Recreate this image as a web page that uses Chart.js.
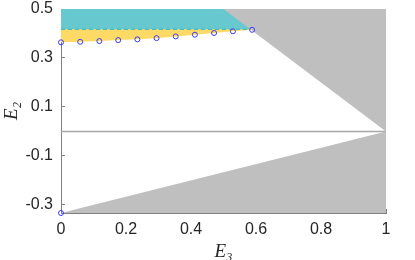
<!DOCTYPE html>
<html>
<head>
<meta charset="utf-8">
<script src="https://cdn.jsdelivr.net/npm/chart.js@4.4.0/dist/chart.umd.min.js"></script>
<style>
    html, body { margin: 0; padding: 0; background: #ffffff; }
</style>
</head>
<body>
<canvas id="chart_e" width="415" height="260"></canvas>
<script>
// sampled points (blue circles)
const markX = [0, 0.059, 0.118, 0.176, 0.235, 0.294, 0.353, 0.412, 0.471, 0.529, 0.588];
const markY = [0.364, 0.366, 0.369, 0.373, 0.376, 0.381, 0.388, 0.395, 0.402, 0.409, 0.415];
const cornerX = [0];
const cornerY = [-0.333];

// region boundaries
const upperEdgeX = [0.5, 1];
const upperEdgeY = [0.5, 0];
const lowerEdgeX = [0, 1];
const lowerEdgeY = [-0.333, 0];
const dashX = [0, 0.583];
const dashY = [0.417, 0.417];
const zeroX = [0, 1];
const zeroY = [0, 0];

const xTicks = [0, 0.2, 0.4, 0.6, 0.8, 1];
const yTicks = [0.5, 0.3, 0.1, -0.1, -0.3];

function pts(xs, ys) {
    return xs.map(function (x, i) { return { x: x, y: ys[i] }; });
}

var ctx = document.getElementById('chart_e');
var eChart = new Chart(ctx, {
    type: 'line',
    data: {
        datasets: [
            {
                label: 'points',
                data: pts(markX, markY).concat(pts(cornerX, cornerY)),
                showLine: false,
                pointRadius: 2.5,
                pointBorderWidth: 1,
                pointBorderColor: '#3a3aff',
                pointBackgroundColor: 'rgba(0,0,0,0)',
                clip: false,
                order: 0
            },
            {
                label: 'upper',
                data: pts(upperEdgeX, upperEdgeY),
                borderWidth: 0,
                pointRadius: 0,
                backgroundColor: '#bfbfbf',
                fill: 'end',
                order: 1
            },
            {
                label: 'lower',
                data: pts(lowerEdgeX, lowerEdgeY),
                borderWidth: 0,
                pointRadius: 0,
                backgroundColor: '#bfbfbf',
                fill: 'start',
                order: 1
            },
            {
                label: 'zero',
                data: pts(zeroX, zeroY),
                borderWidth: 1.5,
                borderColor: '#a8a8a8',
                pointRadius: 0,
                fill: false,
                order: 2
            },
            {
                label: 'cyan',
                data: pts(dashX, dashY),
                borderWidth: 1,
                borderColor: '#2fb4c4',
                borderDash: [4, 3],
                pointRadius: 0,
                backgroundColor: '#67c9cf',
                fill: 'end',
                order: 3
            },
            {
                label: 'yellow',
                data: pts(markX, markY),
                borderWidth: 0,
                pointRadius: 0,
                backgroundColor: '#fdd966',
                fill: 'end',
                order: 4
            }
        ]
    },
    options: {
        responsive: false,
        animation: false,
        layout: { padding: { left: 0, right: 29, top: 9, bottom: 0 } },
        plugins: {
            legend: { display: false },
            tooltip: { enabled: false }
        },
        scales: {
            x: {
                type: 'linear',
                min: 0,
                max: 1,
                afterBuildTicks: function (scale) {
                    scale.ticks = xTicks.map(function (v) { return { value: v }; });
                },
                afterFit: function (scale) {
                    scale.height = 47;
                    scale.paddingLeft = 0;
                    scale.paddingRight = 0;
                },
                grid: { drawOnChartArea: false, tickLength: -4, color: '#808080' },
                border: { color: '#808080', width: 1 },
                ticks: {
                    padding: 11,
                    color: '#262626',
                    font: { family: 'Liberation Sans, Arial, sans-serif', size: 16 },
                    callback: function (v) { return String(v); }
                },
                title: {
                    display: true,
                    text: 'E₃',
                    color: '#262626',
                    padding: 0,
                    font: { family: 'Liberation Serif, DejaVu Serif, serif', style: 'italic', size: 19, lineHeight: 0.85 }
                }
            },
            y: {
                type: 'linear',
                min: -0.333,
                max: 0.5,
                afterBuildTicks: function (scale) {
                    scale.ticks = yTicks.map(function (v) { return { value: v }; });
                },
                afterFit: function (scale) {
                    scale.width = 61;
                    scale.paddingTop = 0;
                    scale.paddingBottom = 0;
                },
                grid: { drawOnChartArea: false, tickLength: -4, color: '#808080' },
                border: { color: '#808080', width: 1 },
                ticks: {
                    padding: 12,
                    color: '#262626',
                    font: { family: 'Liberation Sans, Arial, sans-serif', size: 16 },
                    callback: function (v) { return v.toFixed(1); }
                },
                title: {
                    display: true,
                    text: 'E₂',
                    color: '#262626',
                    padding: { top: 4, bottom: 0 },
                    font: { family: 'Liberation Serif, DejaVu Serif, serif', style: 'italic', size: 19, lineHeight: 0.85 }
                }
            }
        }
    }
});
</script>
</body>
</html>
